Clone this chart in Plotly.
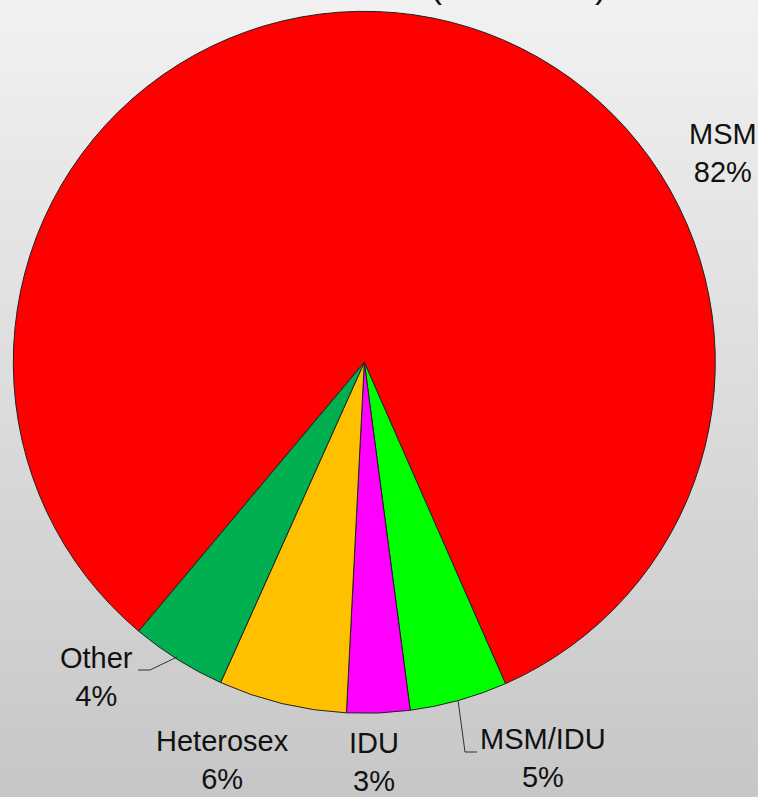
"""
plot.py — Camembert des catégories de transmission.
"""

import plotly.graph_objects as go

W, H = 758, 797

# Données
labels = ["MSM", "MSM/IDU", "IDU", "Heterosex", "Other"]
values = [82.3, 4.5, 2.9, 5.9, 4.4]
pct_text = ["82%", "5%", "3%", "6%", "4%"]
colors = ["#FF0000", "#00FF00", "#FF00FF", "#FFC000", "#00B050"]

# Position des étiquettes (pixels, centre du bloc de texte)
label_pos = [(723, 153), (543, 758), (374, 762), (222, 760), (96, 677)]


def px(x):
    return x / W


def py(y):
    return 1 - y / H


fig = go.Figure(
    go.Pie(
        labels=labels,
        values=values,
        sort=False,
        direction="clockwise",
        rotation=220,
        textinfo="none",
        hoverinfo="label+percent",
        marker=dict(colors=colors, line=dict(color="#222222", width=1)),
        domain=dict(x=[px(13.3), px(715.3)], y=[py(713.3), py(11.3)]),
        showlegend=False,
    )
)

# Fond en dégradé gris (bandes horizontales)
shapes = []
n_strips = 80
top_c, bot_c = 241, 199
for i in range(n_strips):
    c = round(top_c + (bot_c - top_c) * (i + 0.5) / n_strips)
    shapes.append(dict(
        type="rect", xref="paper", yref="paper", layer="below",
        x0=0, x1=1, y0=1 - (i + 1) / n_strips - 0.002, y1=1 - i / n_strips,
        fillcolor=f"rgb({c},{c},{c})", line=dict(width=0),
    ))

# Traits de rappel
leader = dict(type="path", xref="paper", yref="paper", line=dict(color="#333333", width=1))
shapes.append(dict(leader, path=f"M {px(138)},{py(670)} L {px(150)},{py(670)} L {px(177)},{py(657)}"))
shapes.append(dict(leader, path=f"M {px(458)},{py(700)} L {px(465)},{py(752)} L {px(477)},{py(752)}"))

font = dict(family="Liberation Sans, Arial, sans-serif", size=29, color="#111111")
annotations = []
for lab, pct, (x, y) in zip(labels, pct_text, label_pos):
    annotations.append(dict(
        text=f"{lab}<br>{pct}", x=px(x), y=py(y), xref="paper", yref="paper",
        xanchor="center", yanchor="middle", showarrow=False, font=font,
    ))

# Titre coupé en haut : seules les parenthèses dépassent
title_font = dict(family="Liberation Sans, Arial, sans-serif", size=36, color="#111111")
for ch, x in [("(", 436), (")", 601)]:
    annotations.append(dict(
        text=ch, x=px(x), y=py(-16), xref="paper", yref="paper",
        xanchor="center", yanchor="middle", showarrow=False, font=title_font,
    ))

fig.update_layout(
    width=W,
    height=H,
    margin=dict(l=0, r=0, t=0, b=0),
    paper_bgcolor="#E0E0E0",
    plot_bgcolor="#E0E0E0",
    shapes=shapes,
    annotations=annotations,
)

# on retire la marge par défaut du body pour caler la figure en (0, 0)
fig.write_html(
    "out.html",
    config={"displayModeBar": False},
    post_script="document.body.style.margin='0';",
)
